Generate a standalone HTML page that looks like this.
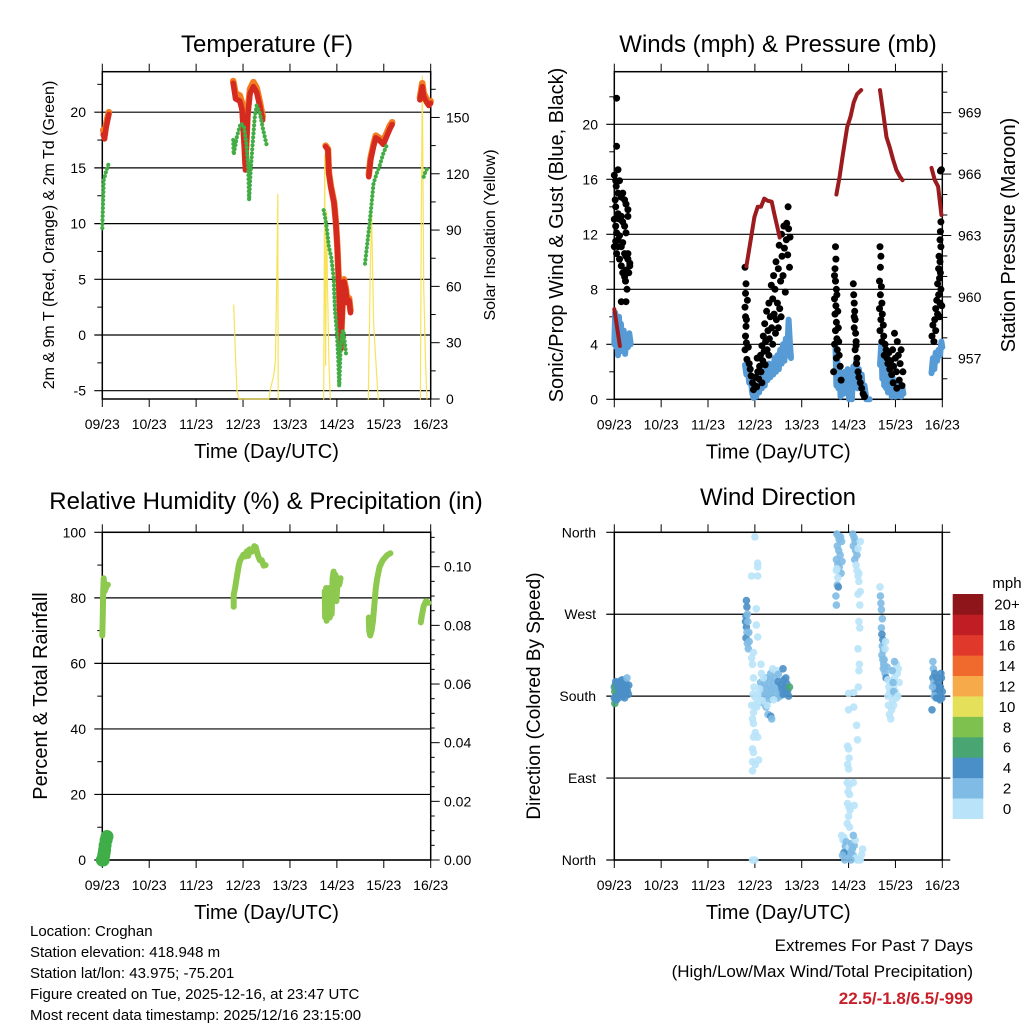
<!DOCTYPE html>
<html><head><meta charset="utf-8"><style>
html,body{margin:0;padding:0;background:#fff;}
svg{display:block;font-family:"Liberation Sans",Arial,sans-serif;}
</style></head><body>
<svg id="chart" width="1024" height="1024" viewBox="0 0 1024 1024" xmlns="http://www.w3.org/2000/svg">
<g id="g1"></g>
<g id="g2"></g>
<g id="g3"></g>
<g id="g4"></g>
<g id="cbar"></g>
<g font-size="15" fill="#000">
<text x="30" y="936">Location: Croghan</text>
<text x="30" y="957">Station elevation: 418.948 m</text>
<text x="30" y="978">Station lat/lon: 43.975; -75.201</text>
<text x="30" y="999">Figure created on Tue, 2025-12-16, at 23:47 UTC</text>
<text x="30" y="1020">Most recent data timestamp: 2025/12/16 23:15:00</text>
</g>
<g text-anchor="end">
<text x="973" y="951" font-size="17">Extremes For Past 7 Days</text>
<text x="973" y="977" font-size="17">(High/Low/Max Wind/Total Precipitation)</text>
<text x="973" y="1004" font-size="17" font-weight="bold" fill="#c8202a">22.5/-1.8/6.5/-999</text>
</g>
</svg>
<script>
// ---------- data ----------
const dayLabels=["09/23","10/23","11/23","12/23","13/23","14/23","15/23","16/23"];
const tempTicks=[-5,0,5,10,15,20];
const solarTicks=[0,30,60,90,120,150];
const windTicks=[0,4,8,12,16,20];
const presTicks=[957,960,963,966,969];
const rhTicks=[0,20,40,60,80,100];
const rainTicks=["0.00","0.02","0.04","0.06","0.08","0.10"];
const dirNames=["North","East","South","West","North"];
const dirTicks=[0,90,180,270,360];

const tRedSegs=[
 [[0.02,18.0],[0.05,17.6],[0.08,18.6],[0.11,19.2],[0.14,19.8]],
 [[2.79,22.6],[2.84,21.2],[2.93,21.0],[2.98,20.2],[3.03,16.6],[3.05,14.8],[3.10,19.6],[3.15,21.7],[3.22,22.3],[3.29,21.8],[3.36,20.5],[3.42,19.3]],
 [[4.76,16.9],[4.81,16.6],[4.83,14.5],[4.87,13.3],[4.94,11.8],[4.98,10.0],[5.01,7.9],[5.05,3.8],[5.07,0.7],[5.08,-1.3],[5.12,2.5],[5.15,4.8],[5.19,4.0],[5.22,2.9],[5.26,3.1],[5.29,2.0]],
 [[5.68,14.2],[5.72,15.7],[5.78,16.9],[5.83,17.7],[5.90,17.5],[5.99,17.1],[6.06,17.8],[6.13,18.5],[6.18,18.9]],
 [[6.77,21.1],[6.82,22.3],[6.85,21.4],[6.91,20.9],[6.96,20.6],[7.0,20.8]]
];
const tOrangeSegs=[
 [[0.02,18.4],[0.05,18.0],[0.08,18.9],[0.11,19.5],[0.14,20.0]],
 [[2.79,22.8],[2.84,21.7],[2.93,21.5],[2.98,20.8],[3.03,17.2],[3.05,15.4],[3.10,20.1],[3.15,22.1],[3.22,22.7],[3.29,22.2],[3.36,20.9],[3.42,19.6]],
 [[4.76,17.0],[4.81,16.7],[4.83,14.6],[4.87,13.4],[4.94,11.9],[4.98,10.1],[5.01,8.0],[5.05,3.9],[5.07,0.8],[5.08,-1.2],[5.12,2.7],[5.15,5.0],[5.19,4.2],[5.22,3.1],[5.26,3.3],[5.29,2.2]],
 [[5.68,14.4],[5.72,15.9],[5.78,17.1],[5.83,17.9],[5.90,17.7],[5.99,17.4],[6.06,18.1],[6.13,18.8],[6.18,19.1]],
 [[6.77,21.3],[6.82,22.6],[6.85,21.7],[6.91,21.2],[6.96,20.9],[7.0,21.0]]
];
const tdSegs=[
 [[0.0,9.6],[0.03,13.9],[0.09,14.8],[0.13,15.3]],
 [[2.79,17.5],[2.80,16.2],[2.87,17.8],[2.95,19.0],[3.02,18.7],[3.07,17.2],[3.11,15.1],[3.13,12.1],[3.16,14.5],[3.20,16.9],[3.25,19.6],[3.29,20.6],[3.36,19.9],[3.43,18.4],[3.50,17.1]],
 [[4.72,11.2],[4.76,10.3],[4.79,9.4],[4.83,7.9],[4.88,7.0],[4.93,5.2],[4.96,2.2],[5.0,0.2],[5.03,-2.2],[5.05,-4.6],[5.08,-1.3],[5.11,0.2],[5.14,0.4],[5.17,-0.7],[5.20,-1.9]],
 [[5.60,6.4],[5.64,7.9],[5.69,9.7],[5.74,11.8],[5.78,13.6],[5.85,14.5],[5.92,15.3],[5.99,16.3],[6.06,17.0]],
 [[6.85,14.2],[6.90,14.8],[6.97,15.1]]
];
const solarSegs=[
 [[2.80,50],[2.84,22],[2.87,5],[2.91,0],[3.55,0],[3.58,5],[3.65,12],[3.69,20],[3.72,65],[3.74,109],[3.75,0]],
 [[4.72,0],[4.74,130],[4.76,18],[4.78,100],[4.80,60],[4.83,20],[4.86,0]],
 [[5.67,0],[5.71,65],[5.74,100],[5.78,42],[5.82,25],[5.88,0]],
 [[6.78,0],[6.80,96],[6.82,172],[6.85,60],[6.89,20],[6.92,0]]
];
const windSegs=[
 [[0.0,4.0],[0.02,6.3],[0.04,3.8],[0.06,5.2],[0.08,3.2],[0.10,6.0],[0.12,4.0],[0.14,5.5],[0.17,3.5],[0.20,5.0],[0.23,3.3],[0.26,4.5],[0.29,3.8],[0.32,4.8],[0.35,4.0]],
 [[2.79,2.5],[2.82,1.8],[2.85,2.4],[2.88,1.2],[2.91,1.6],[2.94,0.5],[2.97,0.1],[3.00,0.8],[3.03,0.2],[3.06,1.0],[3.09,0.5],[3.12,1.5],[3.15,0.8],[3.18,2.0],[3.21,1.0],[3.24,2.2],[3.27,1.4],[3.30,2.6],[3.33,1.6],[3.36,2.4],[3.39,1.8],[3.42,3.0],[3.45,2.0],[3.48,3.2],[3.51,2.2],[3.54,3.6],[3.57,2.6],[3.60,4.0],[3.63,2.8],[3.66,4.4],[3.69,3.2],[3.72,5.8],[3.75,4.0],[3.77,3.0]],
 [[4.72,3.8],[4.74,1.0],[4.76,2.8],[4.78,0.8],[4.80,2.2],[4.83,0.2],[4.86,1.6],[4.89,0.4],[4.92,2.0],[4.95,0.6],[4.98,2.2],[5.01,0.0],[5.04,1.0],[5.07,0.0],[5.10,2.4],[5.13,1.0],[5.16,2.8],[5.19,0.8],[5.22,2.2],[5.25,1.0],[5.28,1.8],[5.31,0.3],[5.34,1.0],[5.38,0.0],[5.45,0.0]],
 [[5.67,2.5],[5.70,4.2],[5.72,1.5],[5.74,3.0],[5.76,1.0],[5.78,2.4],[5.80,0.8],[5.82,2.0],[5.84,0.5],[5.86,1.8],[5.88,0.6],[5.90,1.4],[5.92,0.2],[5.94,1.6],[5.96,0.4],[5.98,1.2],[6.00,0.2],[6.03,1.0],[6.06,0.4],[6.09,1.2],[6.12,0.2],[6.15,0.8],[6.17,0.4]],
 [[6.77,1.9],[6.80,3.0],[6.83,2.2],[6.86,3.4],[6.89,2.8],[6.92,3.6],[6.95,3.2],[6.98,4.2],[7.0,3.8]]
];
const gustTimes=[0.05,0.05,0.08,0.0,0.03,0.04,0.08,0.11,0.15,0.18,0.22,0.25,0.29,0.02,0.03,0.05,0.08,0.11,0.15,0.18,0.22,0.25,0.29,0.0,0.03,0.05,0.08,0.11,0.15,0.18,0.22,0.25,0.29,0.33,0.0,0.03,0.05,0.08,0.11,0.15,0.18,0.22,0.25,0.29,0.31,0.33,0.27,0.25,0.15,0.24,
2.79,2.81,2.80,2.79,2.80,2.82,2.84,2.81,2.80,2.82,2.79,2.83,2.86,2.88,2.90,2.92,2.95,2.97,3.00,3.02,3.04,3.06,3.08,3.10,3.12,3.13,3.15,3.17,3.18,3.20,3.21,3.23,3.25,3.26,3.28,3.30,3.31,3.33,3.35,3.36,3.38,3.40,3.41,3.43,3.45,3.46,3.48,3.50,3.52,3.53,3.55,3.57,3.58,3.60,3.62,3.63,3.65,3.67,3.68,3.70,3.71,3.72,3.74,3.75,3.05,3.15,3.22,3.30,3.38,3.44,3.50,3.56,
4.72,4.73,4.71,4.70,4.72,4.74,4.70,4.73,4.75,4.71,4.74,4.77,4.72,4.75,4.78,4.70,4.76,4.79,4.74,4.80,4.68,4.82,4.84,5.10,5.11,5.12,5.13,5.14,5.12,5.15,5.16,5.14,5.18,5.17,5.20,5.22,5.25,5.28,5.31,5.34,5.12,5.16,
5.67,5.69,5.68,5.66,5.70,5.68,5.71,5.66,5.72,5.69,5.74,5.67,5.75,5.71,5.78,5.80,5.76,5.82,5.84,5.86,5.88,5.90,5.92,5.94,5.96,5.98,6.00,6.02,6.04,6.06,6.08,6.10,6.12,6.14,6.16,5.95,6.03,
6.98,6.96,6.97,6.96,6.95,6.97,6.93,6.95,6.92,6.96,6.94,6.90,6.97,6.92,6.88,6.95,6.86,6.90,6.84,6.80,6.86,6.78,6.82,6.94,6.99];
const gustVals=[21.9,18.4,16.7,16.3,15.9,15.5,15.0,15.9,14.7,15.0,14.5,14.2,13.8,14.5,14.0,13.2,13.5,13.1,13.3,12.9,12.6,12.1,13.3,13.1,12.6,12.1,11.6,11.9,11.1,11.4,10.6,10.4,10.2,9.9,11.1,11.5,10.6,11.1,10.2,9.7,9.2,8.9,9.4,10.6,9.2,9.7,8.0,7.1,7.1,8.6,
9.6,8.4,7.7,6.7,6.0,5.8,7.2,5.3,4.6,4.1,3.6,2.9,3.8,2.6,2.2,1.7,1.2,0.7,1.0,1.6,0.9,2.0,1.5,2.4,3.2,2.0,3.9,2.8,4.6,3.5,5.5,4.2,6.4,3.6,5.0,7.0,4.4,6.0,8.3,5.2,7.3,9.0,6.2,8.0,10.0,5.8,7.0,9.5,11.2,6.6,8.6,12.0,10.4,9.0,12.6,11.0,7.8,11.6,12.8,10.5,14.0,12.4,9.6,11.8,3.0,1.2,2.5,3.2,4.0,4.8,5.2,6.0,
11.1,10.2,9.5,9.0,8.6,8.0,7.3,6.8,7.6,6.2,5.6,6.4,5.0,4.4,5.2,4.0,3.6,4.2,3.0,3.2,2.0,2.4,1.4,8.4,7.6,7.0,6.4,5.8,5.2,4.8,4.2,3.6,3.0,2.6,2.0,1.6,1.2,0.8,0.4,0.2,6.0,3.9,
11.1,10.4,9.6,8.6,8.2,7.6,7.0,6.6,6.2,5.8,5.4,5.0,4.6,4.2,4.0,3.6,3.2,3.0,2.6,3.4,2.2,2.8,1.8,3.6,2.4,4.8,3.0,2.0,4.2,3.2,1.4,2.6,3.6,1.0,2.0,1.2,0.8,
16.7,16.6,12.9,12.2,11.6,11.1,10.4,10.0,9.5,9.2,8.8,8.4,8.0,7.6,7.2,7.0,6.6,6.2,5.8,5.4,5.0,4.6,4.2,6.0,6.8];
const presSegs=[
 [[0.0,959.4],[0.06,958.5],[0.12,957.6]],
 [[2.82,961.5],[2.92,962.9],[2.99,963.9],[3.06,964.4],[3.13,964.4],[3.20,964.8],[3.27,964.7],[3.36,964.65],[3.41,964.1],[3.48,963.4],[3.53,962.9]],
 [[4.74,965.0],[4.81,965.9],[4.88,967.0],[4.97,968.3],[5.04,968.8],[5.11,969.5],[5.18,969.9],[5.27,970.1]],
 [[5.67,970.1],[5.74,968.95],[5.81,967.8],[5.88,967.3],[5.95,966.7],[6.02,966.2],[6.09,965.9],[6.15,965.7]],
 [[6.77,966.3],[6.84,965.7],[6.91,965.4],[6.98,964.0]]
];
const rhSegs=[
 [[0.0,68.5],[0.01,75],[0.02,82],[0.03,86],[0.05,82],[0.09,83.5],[0.12,84]],
 [[2.80,77.3],[2.80,81],[2.83,83],[2.87,86.5],[2.91,90],[2.94,91.5],[2.98,92.5],[3.01,93.2],[3.05,92.6],[3.08,94.2],[3.11,92.8],[3.14,94.8],[3.19,94.1],[3.24,95.8],[3.27,95.5],[3.30,93.8],[3.33,92.5],[3.36,91.5],[3.40,91.5],[3.44,89.8],[3.48,90]],
 [[4.74,82],[4.75,74],[4.77,83],[4.78,73],[4.80,82],[4.81,75],[4.83,83],[4.85,74],[4.87,82],[4.89,75],[4.91,86],[4.93,88],[4.95,80],[4.97,87],[4.99,79],[5.02,86],[5.05,84],[5.08,86]],
 [[5.68,74],[5.69,70],[5.71,68.5],[5.74,70],[5.77,73],[5.80,78],[5.83,83],[5.86,86],[5.91,89.5],[5.98,91.5],[6.07,93],[6.14,93.6]],
 [[6.79,72.5],[6.81,74.5],[6.85,77.5],[6.90,79],[6.95,78.5]]
];
const rainTimes=[0.0,0.02,0.03,0.04,0.05,0.06,0.08,0.10];
const rainVals=[0.0,0.0,0.0015,0.0025,0.0035,0.005,0.0068,0.008];
const dirTimes=[0.0,0.01,0.02,0.03,0.04,0.05,0.06,0.07,0.08,0.09,0.10,0.11,0.12,0.14,0.15,0.16,0.17,0.18,0.19,0.20,0.21,0.22,0.24,0.25,0.26,0.27,0.28,0.30,0.31,0.02,0.01,0.0,0.03,0.05,
2.82,2.83,2.81,2.80,2.82,2.83,2.81,2.84,2.86,2.85,2.87,2.88,2.84,
3.00,3.06,3.06,2.93,3.06,3.03,3.03,3.06,2.97,2.93,2.95,3.13,2.97,2.93,2.97,2.95,2.97,3.01,2.97,3.06,2.95,2.97,2.95,3.01,2.95,3.08,2.95,3.00,2.98,3.02,2.96,3.00,3.04,3.08,3.10,
3.12,3.15,3.18,3.20,3.22,3.24,3.26,3.28,3.30,3.32,3.34,3.36,3.38,3.40,3.42,3.44,3.46,3.48,3.50,3.52,3.54,3.56,3.58,3.60,3.62,3.64,3.66,3.68,3.70,3.72,3.74,3.20,3.24,3.30,3.34,3.38,3.46,3.14,3.18,3.10,3.06,3.16,3.26,3.40,3.50,3.60,3.66,3.28,3.34,3.36,
4.75,4.78,4.80,4.83,4.85,4.76,4.79,4.82,4.74,4.77,4.80,4.86,4.84,4.74,4.76,4.73,4.74,4.78,4.77,4.75,
5.09,5.12,5.14,5.10,5.15,5.18,5.20,5.13,5.16,5.18,5.22,5.20,5.25,5.22,5.25,5.20,5.24,5.22,5.24,5.20,5.23,5.22,5.21,5.17,5.19,5.11,5.11,5.0,5.0,
4.98,5.0,5.01,4.98,5.00,4.97,5.01,4.99,5.02,4.98,5.01,5.03,5.10,5.12,5.00,4.97,5.02,
4.85,4.88,4.90,4.93,4.95,4.97,4.99,5.01,5.04,5.06,5.08,5.10,5.12,5.15,5.18,5.22,5.25,5.28,5.30,4.90,4.87,4.92,5.05,5.14,5.10,
5.67,5.68,5.69,5.70,5.72,5.70,5.71,5.73,5.72,5.74,5.71,5.73,5.75,5.74,5.76,5.77,5.78,5.80,5.82,5.79,5.78,5.84,5.86,5.88,5.90,5.92,5.94,5.96,5.98,6.00,6.02,5.85,5.87,5.90,5.92,5.84,5.96,6.04,6.06,6.08,6.02,5.98,5.95,5.93,5.96,6.05,
6.80,6.81,6.80,6.82,6.84,6.86,6.88,6.85,6.90,6.92,6.94,6.96,6.98,7.00,6.83,6.87,6.91,6.95,6.99,6.78,6.79,6.97];
const dirVals=[190,185,192,180,188,195,183,186,190,178,194,186,182,197,190,184,198,188,180,192,186,178,195,184,190,200,186,182,192,177,172,178,196,176,
285,278,268,262,256,250,244,238,232,262,250,240,270,
355,326,322,312,312,276,258,245,228,222,215,215,200,170,162,155,150,140,135,135,122,118,108,105,98,110,0,0,190,178,182,170,168,172,180,
195,190,185,195,180,200,188,182,192,198,186,180,194,188,200,184,192,178,196,186,180,192,188,182,198,190,184,194,186,180,190,172,168,176,205,210,208,205,200,188,182,175,170,176,204,210,200,160,158,155,
358,356,352,355,350,345,340,335,330,325,322,328,315,318,302,290,280,300,310,320,
358,354,350,345,340,335,342,330,324,318,315,312,350,306,295,292,280,262,255,232,215,208,190,148,132,168,184,183,165,
125,122,112,105,100,85,82,75,72,62,58,55,85,60,48,40,36,
27,22,25,15,20,10,5,14,8,18,12,5,16,2,0,0,0,6,12,8,5,0,0,22,27,
300,290,282,275,265,255,248,242,235,230,225,220,215,210,220,212,205,200,212,240,232,198,190,185,195,180,175,190,200,185,178,170,160,155,165,180,170,205,210,195,215,218,195,208,185,180,
218,210,200,195,205,192,200,185,188,195,182,190,200,185,180,178,178,176,178,165,190,205];
const dirSpeeds=[4,6,6,6,7,5,5,7,4,5,5,5,4,5,5,5,5,5,5,4,5,5,5,5,5,3,5,5,5,6,6,5,4,4,
4,4,4,4,4,3,4,3,2,3,3,2,2,
1,1,1,1,1,1,1,1,1,1,1,1,1,1,1,1,1,1,1,1,1,1,1,1,1,1,1,1,1,1,1,1,1,1,1,
2,3,2,2,3,2,2,3,2,3,2,3,2,3,3,3,3,3,4,3,3,4,4,4,4,4,5,5,5,5,6,3,3,2,2,1,1,1,1,1,1,1,1,1,2,4,4,3,4,3,
3,3,3,2,3,3,3,3,3,3,3,2,2,1,3,3,3,4,1,1,
3,3,3,3,2,2,1,3,1,1,1,1,1,1,1,1,1,1,1,1,1,1,1,1,1,1,1,1,1,
1,1,1,1,1,1,1,1,1,1,1,1,1,1,1,1,1,
1,1,1,3,2,2,2,1,2,3,3,3,2,1,1,1,1,1,1,4,2,2,2,1,3,
1,3,3,3,3,3,4,5,3,3,3,3,3,3,3,2,2,4,2,1,1,1,1,1,1,1,1,1,1,1,1,1,1,1,1,1,1,1,1,1,1,2,3,3,3,1,
3,3,4,3,4,4,5,4,5,5,5,5,4,4,2,4,4,4,4,4,2,4];
const cbarColors=["#b9e3f8","#7fbbe4","#4a8fc7","#49a673","#7ec14e","#e5e05a","#f7aa49","#f0692d","#e0382b","#c01d25","#8e1519"];
const cbarLabels=["0","2","4","6","8","10","12","14","16","18","20+"];

// ---------- helpers ----------
const NS="http://www.w3.org/2000/svg";
function mk(parent,tag,attrs,txt){const e=document.createElementNS(NS,tag);for(const k in attrs)e.setAttribute(k,attrs[k]);if(txt!==undefined)e.textContent=txt;parent.appendChild(e);return e;}
function pts(seg,fx,fy){return seg.map(p=>fx(p[0]).toFixed(1)+","+fy(p[1]).toFixed(1)).join(" ");}

function frame(g,x0,x1,y0,y1,xs){
  for(let i=0;i<dayLabels.length;i++){
    const x=xs(i);
    let t=mk(g,"line",{x1:x,x2:x,y1:y1,y2:y1+8,stroke:"#000","stroke-width":1});
    
    
    t=mk(g,"line",{x1:x,x2:x,y1:y0-8,y2:y0,stroke:"#000","stroke-width":1});
    
    
    const l=mk(g,"text",{x:x,y:y1+30,"font-size":14,"text-anchor":"middle"},dayLabels[i]);
    
    
  }
  const r=mk(g,"rect",{x:x0,y:y0,width:x1-x0,height:y1-y0,fill:"none",stroke:"#000","stroke-width":1.5});
  
  
  const xl=mk(g,"text",{x:(x0+x1)/2,y:y1+59,"font-size":20,"text-anchor":"middle"},"Time (Day/UTC)");
  
  
}
function grid(g,x0,x1,y){const l=mk(g,"line",{x1:x0-8,x2:x1,y1:y,y2:y,stroke:"#000","stroke-width":1.2});
  
  }
function ytick(g,x,y,len){const l=mk(g,"line",{x1:x,x2:x+len,y1:y,y2:y,stroke:"#000","stroke-width":1});
  
  }
function ylab(g,x,y,txt,anchor,name){const t=mk(g,"text",{x:x,y:y+5,"font-size":14,"text-anchor":anchor},txt);
  
  }
function vtitle(g,x,y,txt,size,name){const t=mk(g,"text",{x:x,y:y,"font-size":size,"text-anchor":"middle",transform:"rotate(-90 "+x+" "+y+")"},txt);
  
  }
function title(g,x,y,txt,name){const t=mk(g,"text",{x:x,y:y,"font-size":24,"text-anchor":"middle"},txt);
  
  }
function line(g,seg,fx,fy,color,w,name,dash){const a={points:pts(seg,fx,fy),fill:"none",stroke:color,"stroke-width":w,"stroke-linecap":"round","stroke-linejoin":"round"};if(dash)a["stroke-dasharray"]=dash;
  const p=mk(g,"polyline",a);
  
  }

// ---------- panel 1: temperature ----------
(function(){
 const g=document.getElementById("g1");
 const x0=102.3,x1=430.7,y0=71.7,y1=399;
 const X=t=>x0+(x1-x0)*t/7;
 const Y=v=>335-v*11.14;
 const YS=s=>399-s*1.877;
 tempTicks.forEach(v=>{grid(g,x0,x1,Y(v));ylab(g,86,Y(v),String(v),"end","temp-tick-label");});
 for(let v=-5;v<=22.5;v+=2.5){if(v%5!==0)ytick(g,x0-5,Y(v),5);}
 solarTicks.forEach(s=>{ytick(g,x1,YS(s),9);ylab(g,446,YS(s),String(s),"start","solar-tick-label");});
 for(let s=15;s<=165;s+=30)ytick(g,x1,YS(s),5);
 frame(g,x0,x1,y0,y1,i=>X(i));
 solarSegs.forEach(s=>line(g,s,X,YS,"#f7e35a",1.2,"solar-line"));
 tOrangeSegs.forEach(s=>line(g,s,X,Y,"#f47b20",6.5,"temp-9m-line"));
 tRedSegs.forEach(s=>line(g,s,X,Y,"#d42a20",5.5,"temp-2m-line"));
 tdSegs.forEach(s=>line(g,s,X,Y,"#43ad45",4.2,"dewpoint-line","0 4"));
 title(g,267,52,"Temperature (F)","temp-title");
 vtitle(g,54,235,"2m & 9m T (Red, Orange) & 2m Td (Green)",16,"temp-y-title");
 vtitle(g,495,235,"Solar Insolation (Yellow)",16,"solar-y-title");
})();

// ---------- panel 2: winds & pressure ----------
(function(){
 const g=document.getElementById("g2");
 const x0=614.3,x1=942.3,y0=71.7,y1=399.3;
 const X=t=>x0+(x1-x0)*t/7;
 const Y=v=>399.3-v*13.75;
 const YP=p=>358.3-(p-957)*20.47;
 windTicks.forEach(v=>{grid(g,x0,x1,Y(v));ylab(g,598,Y(v),String(v),"end","wind-tick-label");});
 for(let v=2;v<=22;v+=4)ytick(g,x0-5,Y(v),5);
 presTicks.forEach(p=>{ytick(g,x1,YP(p),9);ylab(g,958,YP(p),String(p),"start","pressure-tick-label");});
 for(let p=956;p<=971;p+=1){if((p-957)%3!==0)ytick(g,x1,YP(p),5);}
 frame(g,x0,x1,y0,y1,i=>X(i));
 windSegs.forEach(s=>line(g,s,X,Y,"#569bd6",6,"sonic-wind-line"));
 for(let i=0;i<gustTimes.length;i++){
  const c=mk(g,"circle",{cx:X(gustTimes[i]).toFixed(1),cy:Y(gustVals[i]).toFixed(1),r:3.5,fill:"#000"});
  
  
 }
 presSegs.forEach(s=>line(g,s,X,YP,"#9b1b1f",4,"pressure-line"));
 title(g,778,52,"Winds (mph) & Pressure (mb)","winds-title");
 vtitle(g,563,235,"Sonic/Prop Wind & Gust (Blue, Black)",20,"wind-y-title");
 vtitle(g,1015,235,"Station Pressure (Maroon)",20,"pressure-y-title");
})();

// ---------- panel 3: RH & precip ----------
(function(){
 const g=document.getElementById("g3");
 const x0=102.3,x1=430.7,y0=532.3,y1=860;
 const X=t=>x0+(x1-x0)*t/7;
 const Y=v=>860-v*3.277;
 const YR=p=>860-p*2933;
 rhTicks.forEach(v=>{grid(g,x0,x1,Y(v));ylab(g,86,Y(v),String(v),"end","rh-tick-label");});
 for(let v=10;v<=90;v+=20)ytick(g,x0-5,Y(v),5);
 rainTicks.forEach(s=>{const p=parseFloat(s);ytick(g,x1,YR(p),9);ylab(g,444,YR(p),s,"start","rain-tick-label");});
 for(let k=0;k<=22;k++){if(k%4!==0)ytick(g,x1,YR(k*0.005),4);}
 frame(g,x0,x1,y0,y1,i=>X(i));
 rhSegs.forEach(s=>line(g,s,X,Y,"#8dc94f",6,"rh-line"));
 for(let i=0;i<rainTimes.length;i++){
  const c=mk(g,"circle",{cx:X(rainTimes[i]).toFixed(1),cy:YR(rainVals[i]).toFixed(1),r:6.5,fill:"#3fae48"});
  
  
 }
 title(g,266,509,"Relative Humidity (%) & Precipitation (in)","rh-title");
 vtitle(g,47,696,"Percent & Total Rainfall",20,"rh-y-title");
})();

// ---------- panel 4: wind direction ----------
(function(){
 const g=document.getElementById("g4");
 const x0=614.3,x1=942.3,y0=532.3,y1=860;
 const X=t=>x0+(x1-x0)*t/7;
 const Y=d=>860-d*(y1-y0)/360;
 dirTicks.forEach((d,i)=>{const l=mk(g,"line",{x1:x0-8,x2:x1+8,y1:Y(d),y2:Y(d),stroke:"#000","stroke-width":1.2});
  
  
  ylab(g,596,Y(d),dirNames[i],"end","direction-tick-label");});
 frame(g,x0,x1,y0,y1,i=>X(i));
 for(let i=0;i<dirTimes.length;i++){
  const b=Math.min(10,Math.floor(dirSpeeds[i]/2));
  const c=mk(g,"circle",{cx:X(dirTimes[i]).toFixed(1),cy:Y(dirVals[i]).toFixed(1),r:3.8,fill:cbarColors[b],"fill-opacity":0.9});
  
  
 }
 title(g,778,505,"Wind Direction","direction-title");
 vtitle(g,540,696,"Direction (Colored By Speed)",19,"direction-y-title");
})();

// ---------- colorbar ----------
(function(){
 const g=document.getElementById("cbar");
 const top=594,bot=818.7,h=(bot-top)/cbarColors.length;
 for(let i=0;i<cbarColors.length;i++){
  const y=bot-(i+1)*h;
  const r=mk(g,"rect",{x:952.7,y:y.toFixed(1),width:30.6,height:(h+0.3).toFixed(1),fill:cbarColors[i]});
  
  
  const t=mk(g,"text",{x:1007,y:(y+h/2+5.5).toFixed(1),"font-size":15,"text-anchor":"middle"},cbarLabels[i]);
  
  
 }
 const u=mk(g,"text",{x:1007,y:588,"font-size":15,"text-anchor":"middle"},"mph");
 
 
})();
</script>
</body></html>
